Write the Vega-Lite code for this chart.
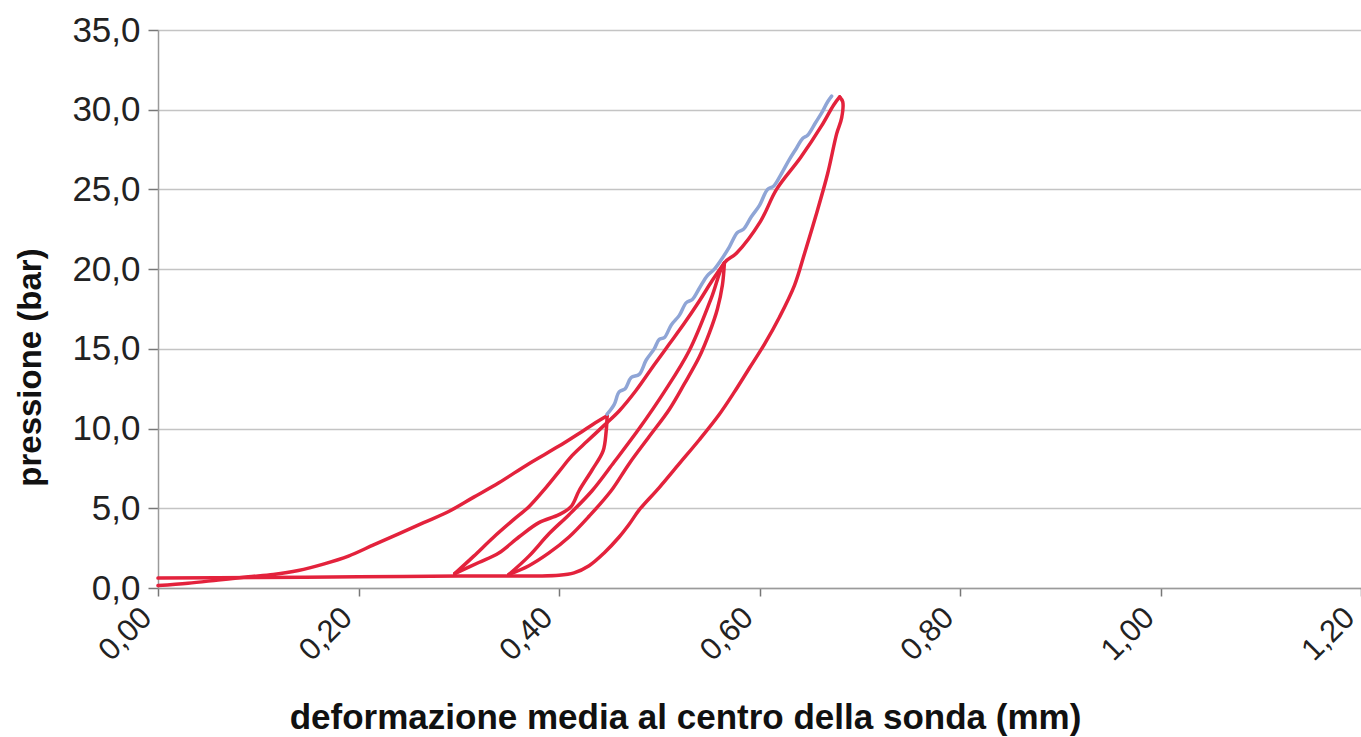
{
  "$schema": "https://vega.github.io/schema/vega-lite/v6.json",
  "width": 1203,
  "height": 558,
  "autosize": "none",
  "padding": {"left": 158, "top": 30, "right": 0, "bottom": 149},
  "background": "white",
  "config": {
    "view": {"stroke": null},
    "font": "Liberation Sans",
    "axis": {"labelFont": "Liberation Sans", "titleFont": "Liberation Sans", "labelColor": "#222", "titleColor": "#111"}
  },
  "data": {"values": [
    {"s":"rosso","g":"c1","i":0,"x":0,"y":0.15},{"s":"rosso","g":"c1","i":1,"x":0.03,"y":0.3},{"s":"rosso","g":"c1","i":2,"x":0.06,"y":0.5},{"s":"rosso","g":"c1","i":3,"x":0.09,"y":0.7},{"s":"rosso","g":"c1","i":4,"x":0.115,"y":0.85},{"s":"rosso","g":"c1","i":5,"x":0.14,"y":1.1},{"s":"rosso","g":"c1","i":6,"x":0.165,"y":1.5},{"s":"rosso","g":"c1","i":7,"x":0.19,"y":2.0},{"s":"rosso","g":"c1","i":8,"x":0.215,"y":2.7},{"s":"rosso","g":"c1","i":9,"x":0.24,"y":3.4},{"s":"rosso","g":"c1","i":10,"x":0.265,"y":4.1},{"s":"rosso","g":"c1","i":11,"x":0.29,"y":4.8},{"s":"rosso","g":"c1","i":12,"x":0.315,"y":5.7},{"s":"rosso","g":"c1","i":13,"x":0.34,"y":6.6},{"s":"rosso","g":"c1","i":14,"x":0.37,"y":7.8},{"s":"rosso","g":"c1","i":15,"x":0.4,"y":8.9},{"s":"rosso","g":"c1","i":16,"x":0.425,"y":9.9},{"s":"rosso","g":"c1","i":17,"x":0.44,"y":10.5},{"s":"rosso","g":"c1","i":18,"x":0.448,"y":10.8},
    {"s":"rosso","g":"u1","i":0,"x":0.448,"y":10.8},{"s":"rosso","g":"u1","i":1,"x":0.447,"y":9.8},{"s":"rosso","g":"u1","i":2,"x":0.444,"y":8.6},{"s":"rosso","g":"u1","i":3,"x":0.433,"y":7.4},{"s":"rosso","g":"u1","i":4,"x":0.42,"y":6.1},{"s":"rosso","g":"u1","i":5,"x":0.412,"y":5.1},{"s":"rosso","g":"u1","i":6,"x":0.4,"y":4.6},{"s":"rosso","g":"u1","i":7,"x":0.38,"y":4.1},{"s":"rosso","g":"u1","i":8,"x":0.36,"y":3.2},{"s":"rosso","g":"u1","i":9,"x":0.34,"y":2.2},{"s":"rosso","g":"u1","i":10,"x":0.32,"y":1.6},{"s":"rosso","g":"u1","i":11,"x":0.296,"y":0.9},
    {"s":"rosso","g":"r1","i":0,"x":0.296,"y":0.9},{"s":"rosso","g":"r1","i":1,"x":0.315,"y":2.0},{"s":"rosso","g":"r1","i":2,"x":0.335,"y":3.2},{"s":"rosso","g":"r1","i":3,"x":0.355,"y":4.3},{"s":"rosso","g":"r1","i":4,"x":0.37,"y":5.1},{"s":"rosso","g":"r1","i":5,"x":0.387,"y":6.3},{"s":"rosso","g":"r1","i":6,"x":0.4,"y":7.3},{"s":"rosso","g":"r1","i":7,"x":0.413,"y":8.3},{"s":"rosso","g":"r1","i":8,"x":0.428,"y":9.2},{"s":"rosso","g":"r1","i":9,"x":0.445,"y":10.2},{"s":"rosso","g":"r1","i":10,"x":0.46,"y":11.1},{"s":"rosso","g":"r1","i":11,"x":0.477,"y":12.4},{"s":"rosso","g":"r1","i":12,"x":0.495,"y":14.0},{"s":"rosso","g":"r1","i":13,"x":0.51,"y":15.3},{"s":"rosso","g":"r1","i":14,"x":0.525,"y":16.6},{"s":"rosso","g":"r1","i":15,"x":0.54,"y":18.0},{"s":"rosso","g":"r1","i":16,"x":0.553,"y":19.3},{"s":"rosso","g":"r1","i":17,"x":0.565,"y":20.4},
    {"s":"rosso","g":"u2","i":0,"x":0.565,"y":20.4},{"s":"rosso","g":"u2","i":1,"x":0.563,"y":19.0},{"s":"rosso","g":"u2","i":2,"x":0.558,"y":17.5},{"s":"rosso","g":"u2","i":3,"x":0.55,"y":16.0},{"s":"rosso","g":"u2","i":4,"x":0.54,"y":14.5},{"s":"rosso","g":"u2","i":5,"x":0.525,"y":12.8},{"s":"rosso","g":"u2","i":6,"x":0.51,"y":11.2},{"s":"rosso","g":"u2","i":7,"x":0.49,"y":9.5},{"s":"rosso","g":"u2","i":8,"x":0.47,"y":7.8},{"s":"rosso","g":"u2","i":9,"x":0.452,"y":6.1},{"s":"rosso","g":"u2","i":10,"x":0.43,"y":4.5},{"s":"rosso","g":"u2","i":11,"x":0.41,"y":3.2},{"s":"rosso","g":"u2","i":12,"x":0.39,"y":2.2},{"s":"rosso","g":"u2","i":13,"x":0.37,"y":1.4},{"s":"rosso","g":"u2","i":14,"x":0.35,"y":0.85},
    {"s":"rosso","g":"r2","i":0,"x":0.35,"y":0.85},{"s":"rosso","g":"r2","i":1,"x":0.37,"y":2.0},{"s":"rosso","g":"r2","i":2,"x":0.39,"y":3.4},{"s":"rosso","g":"r2","i":3,"x":0.41,"y":4.6},{"s":"rosso","g":"r2","i":4,"x":0.433,"y":6.1},{"s":"rosso","g":"r2","i":5,"x":0.455,"y":7.9},{"s":"rosso","g":"r2","i":6,"x":0.48,"y":10.0},{"s":"rosso","g":"r2","i":7,"x":0.505,"y":12.3},{"s":"rosso","g":"r2","i":8,"x":0.53,"y":14.9},{"s":"rosso","g":"r2","i":9,"x":0.552,"y":18.2},{"s":"rosso","g":"r2","i":10,"x":0.565,"y":20.4},{"s":"rosso","g":"r2","i":11,"x":0.577,"y":21.0},{"s":"rosso","g":"r2","i":12,"x":0.601,"y":23.0},{"s":"rosso","g":"r2","i":13,"x":0.617,"y":25.0},{"s":"rosso","g":"r2","i":14,"x":0.641,"y":27.0},{"s":"rosso","g":"r2","i":15,"x":0.662,"y":29.0},{"s":"rosso","g":"r2","i":16,"x":0.674,"y":30.3},{"s":"rosso","g":"r2","i":17,"x":0.68,"y":30.8},
    {"s":"rosso","g":"u3","i":0,"x":0.68,"y":30.8},{"s":"rosso","g":"u3","i":1,"x":0.683,"y":30.5},{"s":"rosso","g":"u3","i":2,"x":0.682,"y":29.5},{"s":"rosso","g":"u3","i":3,"x":0.677,"y":28.5},{"s":"rosso","g":"u3","i":4,"x":0.668,"y":26.0},{"s":"rosso","g":"u3","i":5,"x":0.656,"y":23.3},{"s":"rosso","g":"u3","i":6,"x":0.645,"y":21.0},{"s":"rosso","g":"u3","i":7,"x":0.635,"y":19.0},{"s":"rosso","g":"u3","i":8,"x":0.62,"y":17.0},{"s":"rosso","g":"u3","i":9,"x":0.605,"y":15.3},{"s":"rosso","g":"u3","i":10,"x":0.59,"y":13.8},{"s":"rosso","g":"u3","i":11,"x":0.575,"y":12.3},{"s":"rosso","g":"u3","i":12,"x":0.56,"y":10.9},{"s":"rosso","g":"u3","i":13,"x":0.54,"y":9.3},{"s":"rosso","g":"u3","i":14,"x":0.52,"y":7.8},{"s":"rosso","g":"u3","i":15,"x":0.5,"y":6.3},{"s":"rosso","g":"u3","i":16,"x":0.48,"y":4.9},{"s":"rosso","g":"u3","i":17,"x":0.47,"y":4.0},{"s":"rosso","g":"u3","i":18,"x":0.46,"y":3.2},{"s":"rosso","g":"u3","i":19,"x":0.445,"y":2.2},{"s":"rosso","g":"u3","i":20,"x":0.43,"y":1.4},{"s":"rosso","g":"u3","i":21,"x":0.415,"y":0.95},{"s":"rosso","g":"u3","i":22,"x":0.4,"y":0.8},{"s":"rosso","g":"u3","i":23,"x":0.3,"y":0.75},{"s":"rosso","g":"u3","i":24,"x":0.2,"y":0.7},{"s":"rosso","g":"u3","i":25,"x":0.1,"y":0.66},{"s":"rosso","g":"u3","i":26,"x":0,"y":0.62},
    {"s":"blu","g":"b","i":0,"x":0.448,"y":10.9},{"s":"blu","g":"b","i":1,"x":0.455,"y":11.5},{"s":"blu","g":"b","i":2,"x":0.46,"y":12.3},{"s":"blu","g":"b","i":3,"x":0.466,"y":12.5},{"s":"blu","g":"b","i":4,"x":0.472,"y":13.2},{"s":"blu","g":"b","i":5,"x":0.48,"y":13.4},{"s":"blu","g":"b","i":6,"x":0.487,"y":14.3},{"s":"blu","g":"b","i":7,"x":0.495,"y":15.0},{"s":"blu","g":"b","i":8,"x":0.5,"y":15.6},{"s":"blu","g":"b","i":9,"x":0.505,"y":15.7},{"s":"blu","g":"b","i":10,"x":0.512,"y":16.5},{"s":"blu","g":"b","i":11,"x":0.52,"y":17.1},{"s":"blu","g":"b","i":12,"x":0.527,"y":17.9},{"s":"blu","g":"b","i":13,"x":0.533,"y":18.1},{"s":"blu","g":"b","i":14,"x":0.54,"y":18.8},{"s":"blu","g":"b","i":15,"x":0.548,"y":19.6},{"s":"blu","g":"b","i":16,"x":0.555,"y":20.0},{"s":"blu","g":"b","i":17,"x":0.562,"y":20.6},{"s":"blu","g":"b","i":18,"x":0.57,"y":21.4},{"s":"blu","g":"b","i":19,"x":0.578,"y":22.3},{"s":"blu","g":"b","i":20,"x":0.584,"y":22.5},{"s":"blu","g":"b","i":21,"x":0.592,"y":23.3},{"s":"blu","g":"b","i":22,"x":0.6,"y":24.0},{"s":"blu","g":"b","i":23,"x":0.608,"y":25.0},{"s":"blu","g":"b","i":24,"x":0.614,"y":25.2},{"s":"blu","g":"b","i":25,"x":0.622,"y":26.0},{"s":"blu","g":"b","i":26,"x":0.63,"y":26.9},{"s":"blu","g":"b","i":27,"x":0.637,"y":27.6},{"s":"blu","g":"b","i":28,"x":0.643,"y":28.2},{"s":"blu","g":"b","i":29,"x":0.648,"y":28.4},{"s":"blu","g":"b","i":30,"x":0.656,"y":29.2},{"s":"blu","g":"b","i":31,"x":0.662,"y":29.8},{"s":"blu","g":"b","i":32,"x":0.668,"y":30.5},{"s":"blu","g":"b","i":33,"x":0.672,"y":30.85}
  ]},
  "mark": {"type": "line", "strokeWidth": 3.5, "strokeJoin": "round", "strokeCap": "round", "interpolate": "catmull-rom"},
  "encoding": {
    "x": {
      "field": "x", "type": "quantitative",
      "scale": {"domain": [0, 1.2], "nice": false, "zero": false},
      "axis": {
        "values": [0, 0.2, 0.4, 0.6, 0.8, 1.0, 1.2],
        "labelExpr": "replace(format(datum.value, '.2f'), '.', ',')",
        "grid": false,
        "domainColor": "#9a9a9a", "domainWidth": 1.5,
        "tickColor": "#777", "tickSize": 8, "tickWidth": 1.5,
        "labelAngle": -45, "labelAlign": "right", "labelBaseline": "bottom",
        "labelFontSize": 31, "labelPadding": 28,
        "title": "deformazione media al centro della sonda (mm)",
        "titleFontSize": 35, "titleFontWeight": "bold",
        "titleX": 527, "titleY": 140, "titleAlign": "center", "titleBaseline": "alphabetic", "titleAnchor": null
      }
    },
    "y": {
      "field": "y", "type": "quantitative",
      "scale": {"domain": [0, 35], "nice": false},
      "axis": {
        "values": [0, 5, 10, 15, 20, 25, 30, 35],
        "labelExpr": "replace(format(datum.value, '.1f'), '.', ',')",
        "grid": true, "gridColor": "#c4c4c4", "gridWidth": 1.5,
        "domainColor": "#9a9a9a", "domainWidth": 1.5,
        "tickColor": "#777", "tickSize": 10, "tickWidth": 1.5,
        "labelFontSize": 35, "labelPadding": 8,
        "title": "pressione (bar)",
        "titleFontSize": 33, "titleFontWeight": "bold",
        "titleX": -128, "titleY": 337, "titleAlign": "center", "titleBaseline": "middle", "titleAngle": -90, "titleAnchor": null
      }
    },
    "color": {"field": "s", "type": "nominal", "scale": {"domain": ["rosso", "blu"], "range": ["#e3223c", "#8fa5d6"]}, "legend": null},
    "detail": {"field": "g"},
    "order": {"field": "i", "type": "quantitative"}
  }
}
